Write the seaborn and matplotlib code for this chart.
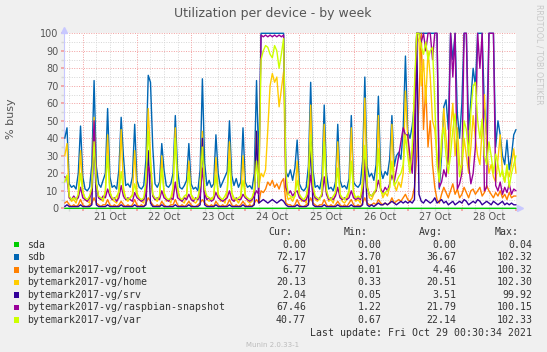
import numpy as np
import pandas as pd
import seaborn as sns
import matplotlib.pyplot as plt
import matplotlib.dates as mdates
from matplotlib.patches import Rectangle
from matplotlib.ticker import FixedLocator, FuncFormatter

# hourly samples, 20 Oct 16:00 -> 29 Oct 00:00 (201 points)
times = pd.date_range("2021-10-20 16:00", "2021-10-29 00:00", freq="h")

devices = ["sda", "sdb", "bytemark2017-vg/root", "bytemark2017-vg/home",
           "bytemark2017-vg/srv", "bytemark2017-vg/raspbian-snapshot",
           "bytemark2017-vg/var"]
colors = ["#00CC00", "#0066B3", "#FF8000", "#FFCC00", "#330099", "#990099", "#CCFF00"]

# sda is flat, only a few samples needed
sda_times = pd.date_range("2021-10-20 16:00", "2021-10-29 00:00", freq="25h")
sda = [0.00, 0.00, 0.01, 0.00, 0.00, 0.04, 0.00, 0.00, 0.00]

sdb = [40, 46, 14, 12, 13, 11, 20, 47,
       18, 11, 10, 12, 25, 73, 24, 14, 12, 16, 20, 57, 18, 12, 13, 11, 22, 52, 30, 13, 14, 12, 18, 48,
       16, 12, 11, 13, 28, 76, 72, 35, 14, 12, 15, 37, 22, 13, 12, 14, 20, 53, 22, 12, 11, 13, 16, 37,
       14, 11, 12, 10, 22, 74, 26, 13, 16, 12, 14, 42, 20, 12, 15, 18, 21, 50, 19, 13, 17, 12, 15, 46,
       15, 12, 13, 11, 20, 73, 25, 100, 100, 100, 100, 100, 100, 100, 100, 100, 100, 100, 21, 18, 22, 16, 23, 39,
       14, 11, 10, 12, 24, 72, 22, 12, 13, 11, 18, 59, 20, 11, 12, 10, 15, 48, 16, 12, 13, 11, 17, 53,
       15, 13, 12, 14, 27, 75, 24, 18, 20, 16, 25, 64, 22, 17, 21, 19, 28, 53, 24, 30, 32, 28, 45, 87,
       44, 40, 47, 60, 100, 100, 100, 100, 100, 100, 100, 100, 100, 100, 11, 30, 58, 62, 45, 100, 85, 100, 54, 40,
       60, 100, 100, 45, 62, 80, 70, 100, 100, 100, 57, 42, 100, 100, 100, 35, 50, 42, 30, 25, 39, 22, 30, 42,
       45]

root = [3, 4, 2, 1, 2, 1, 2, 5,
        2, 1, 1, 2, 3, 6, 3, 2, 1, 2, 2, 5, 2, 1, 2, 1, 2, 4, 2, 1, 2, 1, 2, 5,
        2, 1, 2, 1, 3, 6, 4, 2, 1, 2, 1, 4, 2, 1, 1, 2, 2, 5, 2, 1, 2, 1, 2, 4,
        2, 1, 1, 2, 3, 5, 3, 2, 1, 2, 1, 4, 2, 1, 2, 1, 2, 5, 2, 1, 2, 1, 2, 4,
        2, 1, 2, 1, 3, 5, 3, 10, 9, 11, 15, 13, 16, 12, 14, 11, 15, 17, 3, 2, 2, 1, 2, 5,
        2, 1, 1, 2, 3, 6, 3, 2, 1, 2, 2, 5, 2, 1, 2, 1, 2, 4, 2, 1, 2, 1, 3, 5,
        2, 1, 2, 1, 3, 6, 3, 2, 2, 3, 2, 5, 3, 2, 3, 2, 3, 6, 3, 4, 5, 4, 6, 8,
        5, 4, 6, 12, 30, 62, 100, 45, 70, 35, 50, 25, 12, 5, 3, 8, 12, 9, 6, 10, 14, 8, 11, 6,
        8, 12, 9, 6, 10, 11, 8, 10, 12, 7, 9, 13, 10, 8, 6, 9, 7, 10, 6, 8, 5, 9, 6, 7,
        7]

home = [30, 37, 6, 4, 5, 3, 8, 33,
        10, 5, 4, 3, 12, 52, 14, 6, 5, 4, 9, 42, 10, 5, 4, 3, 11, 45, 12, 5, 4, 6, 8, 33,
        9, 5, 4, 3, 14, 57, 30, 7, 5, 4, 6, 30, 9, 4, 5, 3, 10, 46, 11, 5, 4, 3, 7, 27,
        8, 4, 3, 5, 12, 44, 10, 5, 4, 6, 5, 29, 8, 4, 5, 3, 9, 38, 9, 4, 5, 3, 6, 30,
        8, 4, 3, 4, 11, 44, 12, 20, 18, 22, 45, 70, 77, 72, 75, 58, 68, 78, 10, 5, 6, 4, 7, 27,
        8, 4, 5, 3, 15, 59, 12, 5, 4, 6, 8, 48, 10, 4, 5, 3, 9, 38, 8, 4, 3, 5, 9, 46,
        9, 4, 5, 3, 16, 63, 14, 6, 5, 8, 10, 53, 12, 6, 9, 7, 12, 48, 14, 10, 15, 12, 20, 67,
        40, 25, 30, 60, 100, 95, 70, 85, 60, 90, 75, 50, 45, 30, 20, 35, 57, 40, 25, 45, 60, 30, 46, 25,
        22, 40, 30, 20, 35, 53, 40, 30, 25, 45, 65, 35, 20, 25, 18, 15, 28, 42, 20, 15, 22, 18, 25, 34,
        20]

srv = [1, 2, 1, 1, 1, 1, 1, 2,
       1, 1, 1, 1, 2, 45, 2, 1, 1, 1, 1, 2, 1, 1, 1, 1, 1, 2, 1, 1, 1, 1, 1, 2,
       1, 1, 1, 1, 2, 33, 3, 1, 1, 1, 1, 2, 1, 1, 1, 1, 1, 2, 1, 1, 1, 1, 1, 2,
       1, 1, 1, 1, 2, 40, 2, 1, 1, 1, 1, 2, 1, 1, 1, 1, 1, 2, 1, 1, 1, 1, 1, 2,
       1, 1, 1, 1, 2, 44, 3, 4, 5, 4, 3, 4, 5, 4, 3, 4, 5, 4, 2, 1, 1, 1, 1, 2,
       1, 1, 1, 1, 2, 38, 2, 1, 1, 1, 1, 2, 1, 1, 1, 1, 1, 2, 1, 1, 1, 1, 1, 2,
       1, 1, 1, 1, 2, 30, 2, 1, 2, 1, 2, 3, 2, 2, 3, 2, 3, 4, 3, 2, 3, 4, 3, 4,
       3, 4, 3, 5, 100, 8, 4, 3, 5, 4, 3, 4, 6, 3, 4, 5, 3, 4, 2, 3, 4, 2, 3, 4,
       3, 5, 4, 2, 3, 4, 3, 5, 4, 2, 3, 4, 3, 2, 4, 3, 2, 3, 4, 2, 3, 2, 3, 2,
       2]

raspbian = [18, 17, 6, 5, 7, 5, 6, 12,
            6, 5, 4, 6, 9, 50, 14, 6, 5, 7, 6, 11, 7, 5, 6, 4, 6, 13, 7, 5, 6, 5, 4, 9,
            6, 5, 4, 5, 8, 24, 20, 7, 5, 6, 5, 10, 6, 5, 4, 6, 5, 15, 6, 5, 4, 6, 5, 8,
            5, 4, 6, 5, 7, 23, 8, 5, 6, 4, 5, 9, 6, 5, 4, 5, 6, 10, 5, 4, 6, 5, 5, 8,
            6, 5, 4, 5, 7, 10, 8, 99, 98, 99, 98, 99, 98, 99, 98, 99, 98, 99, 12, 8, 10, 7, 9, 10,
            6, 5, 4, 5, 8, 19, 9, 6, 5, 6, 7, 18, 8, 5, 6, 5, 7, 12, 6, 5, 6, 5, 6, 10,
            6, 5, 6, 5, 9, 27, 12, 8, 7, 9, 10, 16, 11, 9, 12, 10, 14, 19, 15, 22, 30, 38, 46, 42,
            42, 30, 20, 45, 100, 100, 95, 100, 90, 100, 100, 85, 100, 100, 12, 15, 22, 18, 30, 100, 75, 100, 11, 14,
            20, 100, 100, 25, 14, 20, 35, 100, 80, 100, 10, 12, 100, 100, 100, 13, 10, 15, 8, 12, 9, 14, 8, 11,
            10]

var = [15, 19, 7, 5, 6, 5, 8, 20,
       9, 6, 5, 7, 12, 38, 14, 7, 6, 5, 10, 30, 9, 6, 5, 7, 9, 21, 10, 6, 5, 6, 7, 14,
       8, 6, 5, 6, 15, 44, 25, 8, 6, 5, 7, 23, 9, 6, 5, 6, 12, 40, 11, 6, 5, 7, 8, 21,
       8, 6, 5, 6, 13, 35, 11, 7, 6, 5, 7, 19, 8, 6, 5, 7, 10, 27, 9, 6, 5, 6, 7, 16,
       7, 6, 5, 6, 10, 27, 12, 85, 90, 93, 92, 88, 86, 93, 90, 80, 88, 97, 20, 8, 7, 6, 7, 16,
       8, 6, 5, 7, 14, 42, 13, 7, 6, 5, 9, 38, 10, 6, 5, 7, 9, 23, 8, 6, 5, 7, 10, 27,
       9, 6, 7, 6, 13, 36, 12, 8, 7, 9, 11, 34, 10, 8, 9, 10, 12, 27, 13, 15, 18, 20, 25, 42,
       30, 20, 35, 70, 100, 100, 92, 88, 95, 85, 90, 92, 60, 25, 15, 40, 46, 30, 20, 31, 45, 54, 35, 18,
       25, 50, 45, 30, 55, 70, 72, 50, 40, 51, 30, 25, 38, 30, 20, 31, 25, 18, 22, 15, 25, 12, 20, 25,
       30]

cur_vals = ["0.00", "72.17", "6.77", "20.13", "2.04", "67.46", "40.77"]
min_vals = ["0.00", "3.70", "0.01", "0.33", "0.05", "1.22", "0.67"]
avg_vals = ["0.00", "36.67", "4.46", "20.51", "3.51", "21.79", "22.14"]
max_vals = ["0.04", "102.32", "100.32", "102.30", "99.92", "100.15", "102.33"]

frames = [pd.DataFrame({"time": sda_times, "busy": sda, "device": "sda"})]
for name, vals in zip(devices[1:], [sdb, root, home, srv, raspbian, var]):
    frames.append(pd.DataFrame({"time": times, "busy": vals, "device": name}))
df = pd.concat(frames, ignore_index=True)

sns.set_theme(style="white")
plt.rcParams['font.family'] = ['DejaVu Sans']

W, H = 547, 352
fig = plt.figure(figsize=(W / 100, H / 100), dpi=100, facecolor="#F0F0F0")
ax = fig.add_axes([64 / W, 1 - 208.3 / H, 452 / W, 175 / H])
ax.set_facecolor("white")

sns.lineplot(data=df, x="time", y="busy", hue="device", hue_order=devices,
             palette=dict(zip(devices, colors)), linewidth=1.0,
             estimator=None, legend=False, ax=ax)
for ln in ax.lines:
    ln.set_clip_on(False)
    ln.set_zorder(3)

x0 = pd.Timestamp("2021-10-20 15:40")
x1 = pd.Timestamp("2021-10-29 00:00")
ax.set_xlim(x0, x1)
ax.set_ylim(0, 100)

# rrdtool-style dotted grid
for v in range(5, 100, 10):
    ax.axhline(v, color="#D6D6D6", lw=0.7, ls=(0, (1, 1.5)), zorder=1)
for v in range(10, 101, 10):
    ax.axhline(v, color="#F2A0A0", lw=0.7, ls=(0, (1, 1.5)), zorder=1)
for t in pd.date_range("2021-10-20 18:00", "2021-10-28 18:00", freq="6h"):
    if t.hour != 0:
        ax.axvline(t, color="#D6D6D6", lw=0.7, ls=(0, (1, 1.5)), zorder=1)
midnights = pd.date_range("2021-10-21", "2021-10-29", freq="D")
for t in midnights:
    ax.axvline(t, color="#F2A0A0", lw=0.7, ls=(0, (1, 1.5)), zorder=1)

# ticks
ax.set_yticks(range(0, 101, 10))
ax.set_yticks(range(5, 100, 10), minor=True)
ax.tick_params(axis="y", which="both", direction="out", length=2, pad=2,
               labelsize=7, labelcolor="#555555", left=True)
ax.tick_params(axis="y", which="major", color="#F2A0A0")
ax.tick_params(axis="y", which="minor", color="#D6D6D6")

ax.xaxis.set_major_locator(FixedLocator(mdates.date2num(midnights)))
ax.xaxis.set_major_formatter(FuncFormatter(lambda v, p: ""))
ax.xaxis.set_minor_locator(mdates.HourLocator(byhour=[6, 12, 18]))
ax.xaxis.set_minor_formatter(FuncFormatter(
    lambda v, p: mdates.num2date(v).strftime("%d %b") if mdates.num2date(v).hour == 12 else ""))
ax.tick_params(axis="x", which="both", direction="out", length=2, pad=1,
               labelsize=7, labelcolor="#555555", bottom=True)
ax.tick_params(axis="x", which="major", color="#F2A0A0")
ax.tick_params(axis="x", which="minor", color="#D6D6D6")
ax.set_xlabel("")
ax.set_ylabel("")

for s in ["top", "right"]:
    ax.spines[s].set_visible(False)
ax.spines["left"].set_color("#C8C8FF")
ax.spines["bottom"].set_color("#C8C8FF")
ax.spines["left"].set_linewidth(0.8)
ax.spines["bottom"].set_linewidth(0.8)
ax.plot(0, 1.02, marker="^", ms=4, color="#C8C8FF", transform=ax.transAxes, clip_on=False)
ax.plot(1.008, 0, marker=">", ms=4, color="#C8C8FF", transform=ax.transAxes, clip_on=False)

# texts around the chart
def fx(x):
    return x / W

def fy(y):
    return 1 - y / H

fig.text(fx(273), fy(17.5), "Utilization per device - by week", ha="center", va="baseline",
         fontsize=9, color="#555555")
fig.text(fx(10.5), fy(119), "% busy", rotation=90, ha="center", va="center",
         fontsize=8, color="#555555")
fig.text(fx(539), fy(4), "RRDTOOL / TOBI OETIKER", rotation=270, ha="center", va="top",
         fontsize=5.7, color="#C8C8C8")

mono = "DejaVu Sans Mono"
head_y = 232
for lbl, xr in zip(["Cur:", "Min:", "Avg:", "Max:"], [292, 367.6, 442.5, 519]):
    fig.text(fx(xr), fy(head_y), lbl, ha="right", va="center", fontsize=7.1,
             family=mono, color="#333333")

row0, step = 244.5, 12.6
for k, name in enumerate(devices):
    y = row0 + k * step
    fig.add_artist(Rectangle((fx(13.5), fy(y + 2.8)), 5.6 / W, 5.6 / H,
                             transform=fig.transFigure, facecolor=colors[k], edgecolor="none"))
    fig.text(fx(27), fy(y), name, ha="left", va="center", fontsize=7.1, family=mono, color="#333333")
    for val, xr in zip([cur_vals[k], min_vals[k], avg_vals[k], max_vals[k]],
                       [306, 381.5, 456.4, 532.4]):
        fig.text(fx(xr), fy(y), val, ha="right", va="center", fontsize=7.1,
                 family=mono, color="#333333")

fig.text(fx(532.4), fy(row0 + 7 * step), "Last update: Fri Oct 29 00:30:34 2021",
         ha="right", va="center", fontsize=7.1, family=mono, color="#333333")
fig.text(fx(273), fy(row0 + 8 * step), "Munin 2.0.33-1", ha="center", va="center",
         fontsize=5, color="#BBBBBB")

fig.savefig("out.png", dpi=100, facecolor=fig.get_facecolor())
